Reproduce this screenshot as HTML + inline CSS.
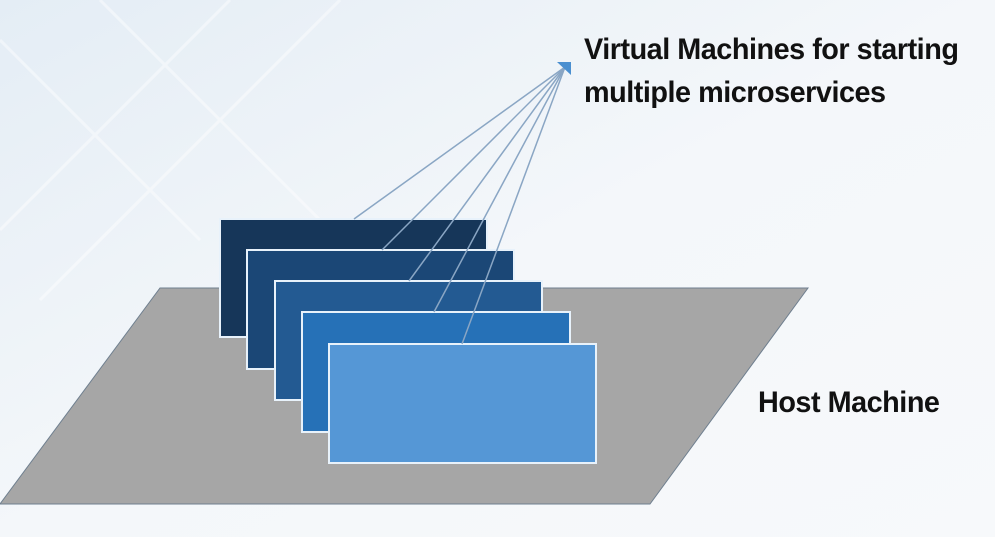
<!DOCTYPE html>
<html><head><style>
body{margin:0;width:995px;height:537px;overflow:hidden;background:#f3f6f9;font-family:"Liberation Sans",sans-serif;}
.t{position:absolute;font-weight:bold;color:#111;font-size:30px;line-height:43px;letter-spacing:-0.5px;transform:scaleX(0.96);transform-origin:0 0;white-space:nowrap}
</style></head><body>
<svg width="995" height="537" style="position:absolute;left:0;top:0">
<defs><linearGradient id="bg" x1="0" y1="0" x2="1" y2="1"><stop offset="0" stop-color="#e4edf5"/><stop offset="0.5" stop-color="#f4f7fa"/><stop offset="1" stop-color="#f7f9fb"/></linearGradient></defs>
<rect width="995" height="537" fill="url(#bg)"/>
<g stroke="#ffffff" stroke-width="3" opacity="0.45">
<line x1="0" y1="230" x2="230" y2="0"/><line x1="0" y1="40" x2="200" y2="240"/><line x1="100" y1="0" x2="320" y2="220"/><line x1="40" y1="300" x2="340" y2="0"/>
</g>
<polygon points="160,288 808,288 650,504 0,504" fill="#a6a6a6" stroke="#6f7f8f" stroke-width="1"/>
<g stroke="#e8f2fb" stroke-width="2">
<rect x="220" y="219" width="267" height="118" fill="#163659"/>
<rect x="247" y="250" width="267" height="119" fill="#1b4776"/>
<rect x="275" y="281" width="267" height="119" fill="#235a92"/>
<rect x="302" y="312" width="268" height="120" fill="#2671b7"/>
<rect x="329" y="344" width="267" height="119" fill="#5597d6"/>
</g>
<g stroke="#8aa6c4" stroke-width="1.5">
<line x1="565" y1="67" x2="354" y2="219"/>
<line x1="565" y1="67" x2="382" y2="250"/>
<line x1="565" y1="67" x2="409" y2="281"/>
<line x1="565" y1="67" x2="434" y2="312"/>
<line x1="565" y1="67" x2="462" y2="344"/>
</g>
<polygon points="571,62 557,62 571,75" fill="#4a8fd0"/>
</svg>
<div class="t" style="left:584px;top:28px">Virtual Machines for starting<br>multiple microservices</div>
<div class="t" style="left:758px;top:381px">Host Machine</div>
</body></html>
